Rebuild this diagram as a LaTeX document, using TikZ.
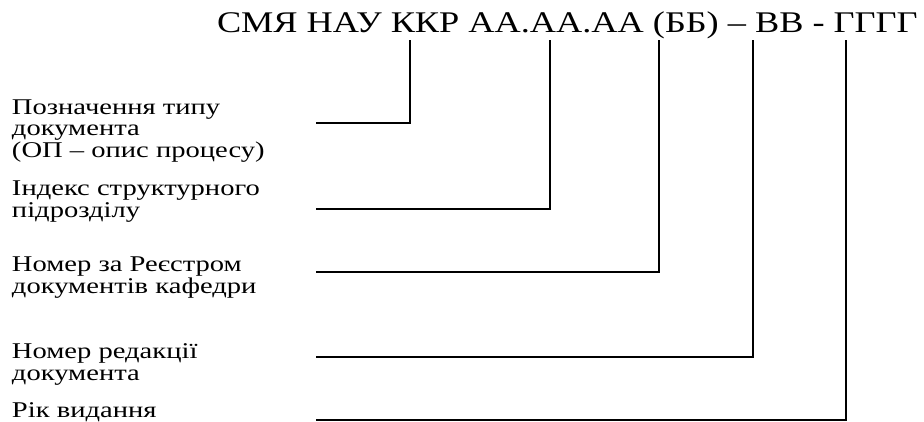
\documentclass[tikz,border=0pt]{standalone}
\usepackage{fontspec}
\setmainfont{Liberation Serif}
\newfontfamily\codeserif[FakeStretch=1.21]{Liberation Serif}
\newfontfamily\wideserif[FakeStretch=1.27]{Liberation Serif}

\begin{document}
\begin{tikzpicture}[x=1pt, y=-1pt,
  every node/.style = {inner sep=0pt, outer sep=0pt},
  code/.style = {anchor=base west, font=\codeserif\fontsize{30}{32}\selectfont},
  remark/.style = {anchor=base west, align=left,
    font=\wideserif\fontsize{22.5}{21.5}\selectfont},
  lead/.style = {draw, line width=1.3pt}]

\useasboundingbox (0,0) rectangle (924,421);

% Designation code
\node[code] (code) at (217,32.5) {СМЯ НАУ ККР АА.АА.АА (ББ) – ВВ - ГГГГ};

% Explanations of the parts (anchored at the last line)
\node[remark] (type) at (12,157) {Позначення типу\\документа\\(ОП – опис процесу)};
\node[remark] (unit) at (12,217) {Індекс структурного\\підрозділу};
\node[remark] (reg) at (12,293) {Номер за Реєстром\\документів кафедри};
\node[remark] (rev) at (12,380) {Номер редакції\\документа};
\node[remark] (year) at (12,417) {Рік видання};

% Leader lines from the code to the explanations
\foreach \x/\y [count=\i] in {410/123, 550/209, 659/272, 753/357, 846/420} {
  \coordinate (top\i) at (\x,40);
  \coordinate (end\i) at (316,\y);
  \draw[lead] (top\i) |- (end\i);
}
\end{tikzpicture}
\end{document}
